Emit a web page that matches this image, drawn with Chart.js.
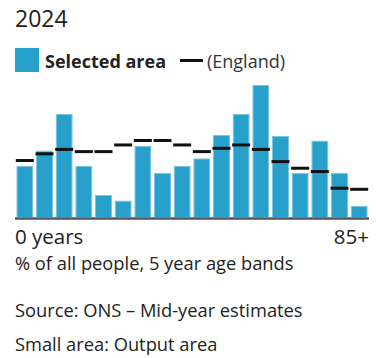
<!DOCTYPE html>
<html>
<head>
<meta charset="utf-8">
<script src="https://cdn.jsdelivr.net/npm/chart.js@4.4.1/dist/chart.umd.min.js"></script>
<style>
  body { margin: 0; background: #fff; font-family: "Open Sans", sans-serif; color: #222; }
  #wrap { position: relative; width: 376px; height: 358px; overflow: hidden; }
  .t { position: absolute; white-space: nowrap; line-height: 1; }
  #title { left: 15px; top: 7px; font-size: 23px; color: #222; }
  #swatch { position: absolute; left: 15px; top: 48px; width: 24px; height: 24px; background: #27a0cc; }
  #selLbl { left: 45px; top: 52px; font-size: 18px; font-weight: bold; color: #222; }
  #engDash { position: absolute; left: 180px; top: 59px; width: 23px; height: 3px; background: #111; }
  #engLbl { left: 207px; top: 52px; font-size: 18px; color: #333; }
  #xMin { left: 15px; top: 226px; font-size: 20.5px; color: #222; }
  #xMax { right: 7px; top: 226px; font-size: 20.5px; color: #222; }
  #unit { left: 15px; top: 254px; font-size: 18.3px; color: #222; }
  #src { left: 15px; top: 301px; font-size: 18.3px; color: #222; }
  #small { left: 15px; top: 335px; font-size: 18.3px; color: #222; }
  #age-chart { position: absolute; left: 0; top: 78px; }
</style>
</head>
<body>
<div id="wrap">
  <div class="t" id="title">2024</div>
  <div id="swatch"></div>
  <div class="t" id="selLbl">Selected area</div>
  <div id="engDash"></div>
  <div class="t" id="engLbl">(England)</div>
  <canvas id="age-chart" width="376" height="144"></canvas>
  <div class="t" id="xMin">0 years</div>
  <div class="t" id="xMax">85+</div>
  <div class="t" id="unit">% of all people, 5 year age bands</div>
  <div class="t" id="src">Source: ONS – Mid-year estimates</div>
  <div class="t" id="small">Small area: Output area</div>
</div>
<script>
var ageBands = ["0-4", "5-9", "10-14", "15-19", "20-24", "25-29", "30-34", "35-39", "40-44",
    "45-49", "50-54", "55-59", "60-64", "65-69", "70-74", "75-79", "80-84", "85+"];
var selectedArea = [4.6, 6.0, 9.3, 4.6, 2.0, 1.5, 6.4, 4.0, 4.6, 5.3, 7.4, 9.3, 11.9, 7.3, 4.0, 6.9, 4.0, 1.0];
var england = [5.1, 5.7, 6.1, 5.9, 5.9, 6.5, 6.9, 6.9, 6.5, 5.9, 6.2, 6.5, 6.1, 5.0, 4.4, 4.1, 2.6, 2.5];

// dark baseline under the bars
var baseLine = {
    id: "baseLine",
    afterDatasetsDraw: function (chart) {
        var c = chart.ctx;
        var y = chart.scales.y.getPixelForValue(0);
        c.save();
        c.strokeStyle = "#555";
        c.lineWidth = 2.5;
        c.beginPath();
        c.moveTo(chart.chartArea.left, y + 1.5);
        c.lineTo(chart.chartArea.right, y + 1.5);
        c.stroke();
        c.restore();
    },
};

var ctx = document.getElementById("age-chart").getContext("2d");

var config = {
    type: "bar",
    data: {
        labels: ageBands,
        datasets: [
            {
                type: "line",
                label: "(England)",
                data: england,
                showLine: false,
                pointStyle: "line",
                pointRadius: 9,
                pointHoverRadius: 9,
                borderColor: "#111",
                backgroundColor: "#111",
                borderWidth: 3,
                order: 0,
            },
            {
                label: "Selected area",
                data: selectedArea,
                backgroundColor: "#27a0cc",
                borderColor: "#7cc3df",
                borderWidth: 1,
                barPercentage: 0.87,
                categoryPercentage: 1,
                order: 1,
            },
        ],
    },
    options: {
        responsive: false,
        animation: false,
        layout: { autoPadding: false, padding: { left: 15, right: 7, top: 6, bottom: 5 } },
        scales: {
            x: { display: false },
            y: { display: false, min: 0, max: 12 },
        },
        plugins: {
            legend: { display: false },
            tooltip: { enabled: false },
        },
    },
    plugins: [baseLine],
};

var ageChart = new Chart(ctx, config);
</script>
</body>
</html>
